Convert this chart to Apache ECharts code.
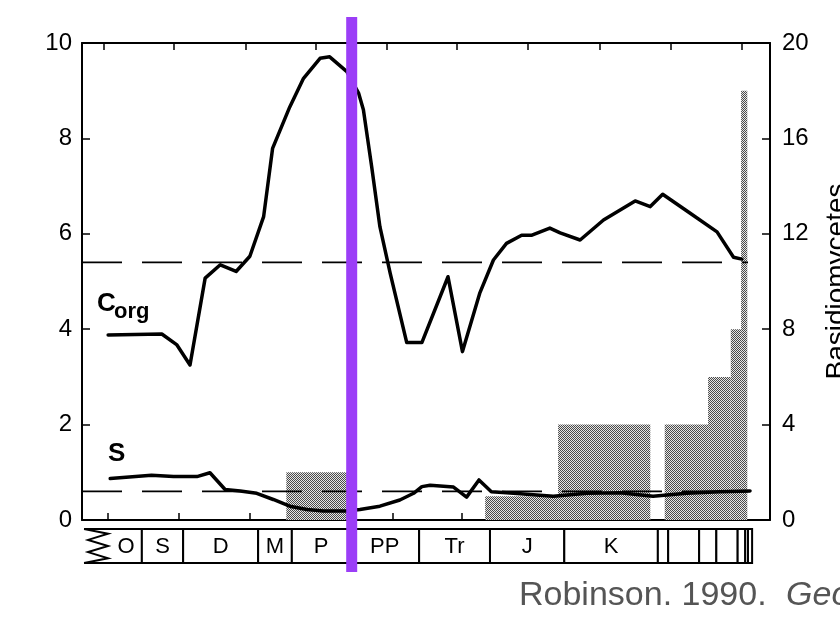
<!DOCTYPE html>
<html>
<head>
<meta charset="utf-8">
<script src="https://cdn.jsdelivr.net/npm/echarts@6/dist/echarts.min.js"></script>
<style>
html,body{margin:0;padding:0;background:#fff;}
#chart{width:840px;height:617px;}
</style>
</head>
<body>
<div id="chart"></div>
<script>
// ---- data (x in relative position units along the geological time column, 0..100) ----
const corgPos = [3.8, 11.6, 13.8, 15.7, 17.9, 20.1, 22.4, 24.4, 26.4, 27.7, 30.2, 32.2, 34.6, 36.0, 38.5, 40.2, 40.9, 42.1, 43.3, 44.8, 47.2, 49.4, 53.2, 55.3, 57.8, 59.8, 61.7, 63.9, 65.4, 68.0, 69.5, 72.4, 75.8, 80.4, 82.6, 84.4, 88.4, 92.3, 94.7, 95.9];
const corgValues = [3.88, 3.90, 3.67, 3.25, 5.07, 5.35, 5.21, 5.53, 6.36, 7.79, 8.66, 9.26, 9.68, 9.71, 9.40, 8.95, 8.60, 7.41, 6.15, 5.17, 3.72, 3.72, 5.10, 3.53, 4.75, 5.45, 5.80, 5.97, 5.97, 6.12, 6.02, 5.87, 6.29, 6.69, 6.57, 6.83, 6.43, 6.04, 5.51, 5.47];
const sPos = [4.1, 10.1, 13.3, 16.7, 18.6, 20.8, 23.0, 25.4, 27.8, 30.2, 32.7, 35.1, 38.5, 40.4, 43.3, 46.2, 48.2, 49.4, 50.6, 54.0, 55.9, 57.7, 59.5, 61.7, 63.7, 68.5, 73.4, 78.2, 83.0, 87.9, 92.7, 97.1];
const sValues = [0.87, 0.94, 0.91, 0.91, 0.99, 0.64, 0.61, 0.56, 0.43, 0.29, 0.22, 0.19, 0.19, 0.22, 0.29, 0.42, 0.56, 0.70, 0.73, 0.69, 0.48, 0.84, 0.59, 0.57, 0.55, 0.50, 0.56, 0.57, 0.50, 0.56, 0.59, 0.61];
const corgMean = 5.4;
const sMean = 0.6;
const meanExtent = [0, 96.8];
const basidioStart = [29.7, 58.6, 69.2, 84.7, 91.0, 94.3, 95.8];
const basidioEnd   = [38.5, 69.2, 82.6, 91.0, 94.3, 95.8, 96.7];
const basidioValues = [2, 1, 4, 4, 6, 8, 18];
const periodNames = ['O', 'S', 'D', 'M', 'P', 'PP', 'Tr', 'J', 'K', '', '', '', '', '', '', ''];
const periodStart = [0.3, 8.7, 14.7, 25.6, 30.5, 39.0, 49.0, 59.3, 70.1, 83.7, 85.2, 89.7, 92.2, 95.3, 96.4, 96.8];
const periodEnd   = [8.7, 14.7, 25.6, 30.5, 39.0, 49.0, 59.3, 70.1, 83.7, 85.2, 89.7, 92.2, 95.3, 96.4, 96.8, 97.4];
const topTicks = [3.2, 13.4, 23.8, 34.0, 44.3, 54.5, 64.8, 75.3, 85.6, 95.9];
const bottomTicks = [3.8, 14.1, 24.4, 34.6, 45.1, 55.2, 65.8, 76.0, 86.3];
const highlightPos = [39.2];

// ---- stipple pattern ----
function makePattern() {
  const c = document.createElement('canvas');
  c.width = 4; c.height = 4;
  const ctx = c.getContext('2d');
  ctx.fillStyle = '#e6e6e6';
  ctx.fillRect(0, 0, 4, 4);
  ctx.fillStyle = '#4a4a4a';
  for (let y = 0; y < 4; y++) for (let x = 0; x < 4; x++) if ((x + y) % 2 === 0) ctx.fillRect(x, y, 1, 1);
  return c;
}
const pattern = makePattern();

const FONT = 'Liberation Sans, Arial, sans-serif';
const chart = echarts.init(document.getElementById('chart'), null, {renderer: 'canvas'});

const axisLine = {show: true, onZero: false, lineStyle: {color: '#000', width: 2}};

const option = {
  animation: false,
  backgroundColor: '#fff',
  grid: [
    {left: 82, right: 70, top: 43, bottom: 97, outerBoundsMode: 'none', containLabel: false},
    {left: 82, right: 70, top: 529, height: 34, outerBoundsMode: 'none', containLabel: false}
  ],
  xAxis: [
    {gridIndex: 0, type: 'value', min: 0, max: 100, position: 'bottom',
     axisLine: axisLine, splitLine: {show: false}, axisLabel: {show: false},
     axisTick: {show: true, inside: true, length: 7, lineStyle: {color: '#000', width: 1.5}, customValues: bottomTicks}},
    {gridIndex: 0, type: 'value', min: 0, max: 100, position: 'top',
     axisLine: axisLine, splitLine: {show: false}, axisLabel: {show: false},
     axisTick: {show: true, inside: true, length: 7, lineStyle: {color: '#000', width: 1.5}, customValues: topTicks}},
    {gridIndex: 1, type: 'value', min: 0, max: 100, show: false}
  ],
  yAxis: [
    {gridIndex: 0, type: 'value', min: 0, max: 10, interval: 2, position: 'left',
     axisLine: axisLine, splitLine: {show: false},
     axisTick: {show: true, inside: true, length: 8, lineStyle: {color: '#000', width: 1.5}},
     axisLabel: {color: '#000', fontSize: 24, fontFamily: FONT, margin: 10}},
    {gridIndex: 0, type: 'value', min: 0, max: 20, interval: 4, position: 'right',
     axisLine: axisLine, splitLine: {show: false},
     axisTick: {show: true, inside: true, length: 8, lineStyle: {color: '#000', width: 1.5}},
     axisLabel: {color: '#000', fontSize: 24, fontFamily: FONT, margin: 12},
     name: 'Basidiomycetes', nameLocation: 'middle', nameRotate: 90, nameGap: 53,
     nameTextStyle: {color: '#000', fontSize: 28, fontFamily: FONT}},
    {gridIndex: 1, type: 'value', min: 0, max: 1, show: false}
  ],
  series: [
    {
      name: 'Basidiomycetes', type: 'custom', xAxisIndex: 0, yAxisIndex: 1, z: 1,
      data: basidioValues.map((v, i) => [basidioStart[i], basidioEnd[i], v]),
      renderItem: function (params, api) {
        const p0 = api.coord([api.value(0), api.value(2)]);
        const p1 = api.coord([api.value(1), 0]);
        return {type: 'rect', shape: {x: p0[0], y: p0[1], width: p1[0] - p0[0], height: p1[1] - p0[1]},
                style: {fill: {image: pattern, repeat: 'repeat'}}};
      }
    },
    {
      name: 'Corg mean', type: 'line', xAxisIndex: 0, yAxisIndex: 0, symbol: 'none', z: 2,
      data: meanExtent.map(x => [x, corgMean]),
      lineStyle: {color: '#000', width: 1.6, type: [40, 20]}
    },
    {
      name: 'S mean', type: 'line', xAxisIndex: 0, yAxisIndex: 0, symbol: 'none', z: 2,
      data: meanExtent.map(x => [x, sMean]),
      lineStyle: {color: '#000', width: 1.6, type: [40, 20]}
    },
    {
      name: 'Corg', type: 'line', xAxisIndex: 0, yAxisIndex: 0, symbol: 'none', z: 3,
      data: corgPos.map((x, i) => [x, corgValues[i]]),
      lineStyle: {color: '#000', width: 3.5, join: 'round', cap: 'round'}
    },
    {
      name: 'S', type: 'line', xAxisIndex: 0, yAxisIndex: 0, symbol: 'none', z: 3,
      data: sPos.map((x, i) => [x, sValues[i]]),
      lineStyle: {color: '#000', width: 3.5, join: 'round', cap: 'round'}
    },
    {
      name: 'Periods', type: 'custom', xAxisIndex: 2, yAxisIndex: 2, clip: false,
      data: periodNames.map((n, i) => [periodStart[i], periodEnd[i], n]),
      renderItem: function (params, api) {
        const p0 = api.coord([api.value(0), 1]);
        const p1 = api.coord([api.value(1), 0]);
        const x0 = p0[0], x1 = p1[0], y0 = p0[1], y1 = p1[1], h = y1 - y0;
        const name = periodNames[params.dataIndex];
        const children = [];
        const ls = {stroke: '#000', lineWidth: 2, fill: null};
        let cx = (x0 + x1) / 2;
        if (params.dataIndex === 0) {
          const w = 24;
          children.push({type: 'polyline', shape: {points: [[x0, y0], [x0 + w, y0 + h * 0.14], [x0 + 4, y0 + h * 0.32], [x0 + w, y0 + h * 0.5], [x0 + 4, y0 + h * 0.68], [x0 + w, y0 + h * 0.86], [x0, y1]]}, style: ls});
          children.push({type: 'line', shape: {x1: x0, y1: y0, x2: x1, y2: y0}, style: ls});
          children.push({type: 'line', shape: {x1: x0, y1: y1, x2: x1, y2: y1}, style: ls});
          children.push({type: 'line', shape: {x1: x1, y1: y0, x2: x1, y2: y1}, style: ls});
          cx = (x0 + w + x1) / 2 + 1;
        } else {
          children.push({type: 'rect', shape: {x: x0, y: y0, width: x1 - x0, height: h}, style: {stroke: '#000', lineWidth: 2, fill: '#fff'}});
        }
        if (name) {
          children.push({type: 'text', style: {x: cx, y: (y0 + y1) / 2 + 1, text: name, align: 'center', verticalAlign: 'middle', font: '22px ' + FONT, fill: '#000'}});
        }
        return {type: 'group', children: children};
      }
    },
    {
      name: 'Highlight', type: 'custom', xAxisIndex: 0, yAxisIndex: 0, clip: false, z: 10,
      data: highlightPos.map(x => [x]),
      renderItem: function (params, api) {
        const top = api.coord([api.value(0), 10]);
        const bottom = api.coord([api.value(0), 0]);
        return {type: 'rect', shape: {x: top[0] - 5.5, y: top[1] - 26, width: 11, height: (bottom[1] - top[1]) + 78},
                style: {fill: '#9b3ef7'}};
      }
    }
  ],
  graphic: [
    {type: 'text', x: 97, y: 304, style: {text: 'C', font: 'bold 26px ' + FONT, fill: '#000', verticalAlign: 'middle'}},
    {type: 'text', x: 114, y: 312, style: {text: 'org', font: 'bold 22px ' + FONT, fill: '#000', verticalAlign: 'middle'}},
    {type: 'text', x: 108, y: 454, style: {text: 'S', font: 'bold 26px ' + FONT, fill: '#000', verticalAlign: 'middle'}},
    {type: 'text', x: 519, y: 596, style: {
      text: '{n|Robinson. 1990. }{i|Geology}',
      rich: {n: {font: '34px ' + FONT, fill: '#555'}, i: {font: 'italic 34px ' + FONT, fill: '#555', padding: [0, 0, 0, 10]}},
      verticalAlign: 'middle'}}
  ]
};
chart.setOption(option);
</script>
</body>
</html>
